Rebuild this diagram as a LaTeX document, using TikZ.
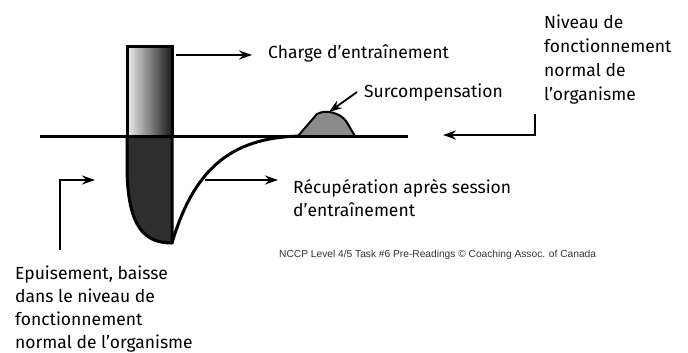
\documentclass[tikz,border=0pt]{standalone}
\usepackage{fontspec}
\setmainfont{Fira Sans}
\newfontfamily\creditfont{Liberation Sans}
\usetikzlibrary{arrows.meta}
\definecolor{darkfill}{HTML}{2E2E2E}
\definecolor{bumpfill}{HTML}{8A8A8A}
\tikzset{
  lbl/.style={inner sep=0pt, font=\fontsize{17.5}{24}\selectfont, align=left},
  conn/.style={line width=1.8pt, -{Stealth[length=13pt,width=9pt]}},
  thick line/.style={line width=3pt},
}
\begin{document}
\begin{tikzpicture}[x=1pt,y=-1pt]
\useasboundingbox (0,0) rectangle (688,353);
% dark exhaustion shape
\path[fill=darkfill, draw=black, line width=3pt, line join=round]
  (127,136) -- (127,170) .. controls (128,228) and (145,243) .. (172,243) -- (172,136) -- cycle;
% load bar
\shade[left color=gray!15, right color=black!90] (127,47) rectangle (172,136);
\draw[line width=3pt] (127,47) rectangle (172,136);
% baseline
\draw[thick line] (40,136) -- (408,136);
% recovery curve
\draw[thick line, line cap=round] (172,243) .. controls (195,165) and (235,136) .. (305,136);
% surcompensation bump
\draw[fill=bumpfill, line width=2pt, line join=round]
  (298,136) -- (317,114) .. controls (326,109) and (340,113) .. (346,121) -- (355,136) -- cycle;
% nodes
\node[lbl, anchor=base west] (charge) at (268,59) {Charge d’entraînement};
\node[lbl, anchor=base west] (surco) at (364,97) {Surcompensation};
\node[lbl, anchor=north west, font=\fontsize{17.5}{22.5}\selectfont] (recup) at (293,179.5) {Récupération après session\\d’entraînement};
\node[lbl, anchor=north west] (niveau) at (544,14.5) {Niveau de\\fonctionnement\\normal de\\l’organisme};
\node[lbl, anchor=north west, font=\fontsize{17.5}{23}\selectfont] (epuis) at (15,266) {Epuisement, baisse\\dans le niveau de\\fonctionnement\\normal de l’organisme};
\node[inner sep=0pt, anchor=base west, font=\creditfont\fontsize{10.2}{12}\selectfont, text=black!80] (credit) at (279,257) {NCCP Level 4/5 Task \#6 Pre-Readings © Coaching Assoc. of Canada};
% arrow coordinates
\coordinate (c1s) at (176,55);
\coordinate (c1e) at (252,55);
\coordinate (s1s) at (357,92);
\coordinate (s1e) at (329,112);
\coordinate (r1s) at (205,180);
\coordinate (r1e) at (278,180);
\coordinate (l1a) at (60,250);
\coordinate (l1b) at (60,180);
\coordinate (l1e) at (95,180);
\coordinate (n1a) at (535,114);
\coordinate (n1b) at (535,135);
\coordinate (n1e) at (443,135);
\draw[conn] (c1s) -- (c1e);
\draw[conn] (s1s) -- (s1e);
\draw[conn] (r1s) -- (r1e);
\draw[conn] (l1a) -- (l1b) -- (l1e);
\draw[conn] (n1a) -- (n1b) -- (n1e);
\end{tikzpicture}
\end{document}
